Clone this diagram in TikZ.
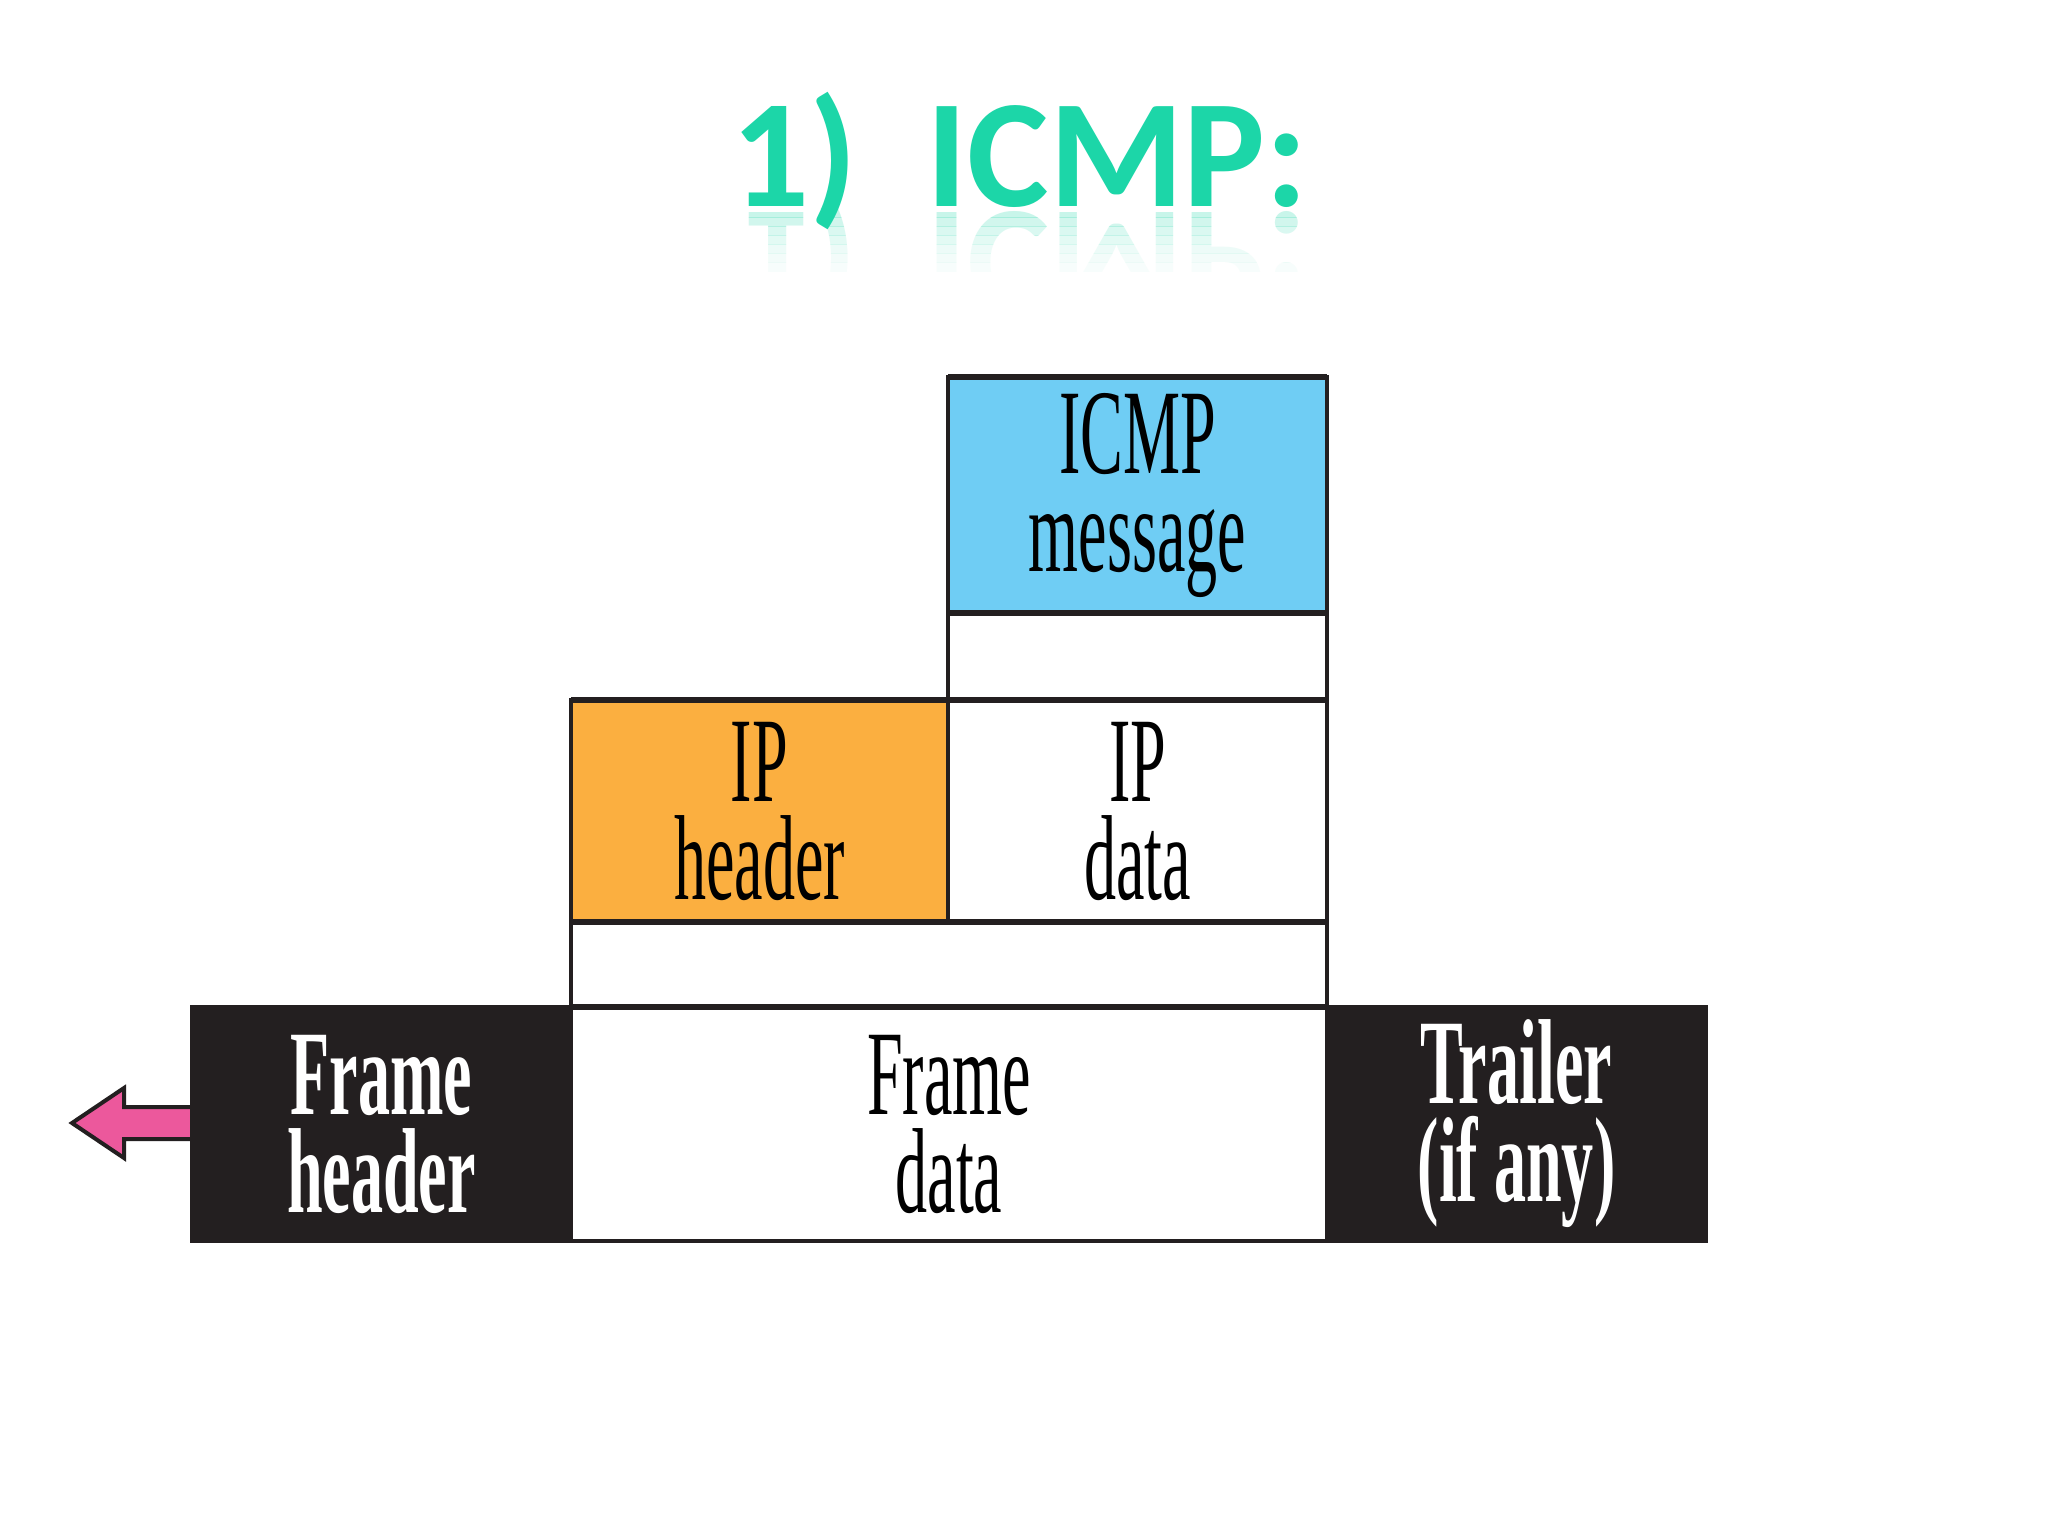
\documentclass[tikz,border=0pt]{standalone}
\usepackage{fontspec}
\newfontfamily\condserif[FakeStretch=0.53]{Liberation Serif}
\newfontfamily\titlefont{Carlito}
\definecolor{icmpblue}{RGB}{111,205,244}
\definecolor{iporange}{RGB}{251,175,64}
\definecolor{framebk}{RGB}{35,31,32}
\definecolor{arrowpink}{RGB}{236,88,156}
\definecolor{titlegreen}{RGB}{28,214,168}
\tikzset{
  pktbox/.style={draw=framebk, line width=3.5pt, inner sep=0pt, outer sep=0pt,
    align=center, font=\condserif\fontsize{121}{98}\selectfont},
  darkbox/.style={pktbox, fill=framebk, draw=framebk, text=white,
    font=\condserif\bfseries\fontsize{121}{98}\selectfont},
  thickedge/.style={draw=framebk, line width=6.5pt, line cap=butt},
  titlestyle/.style={inner sep=0pt, anchor=base, text=titlegreen,
    font=\titlefont\bfseries\fontsize{154}{160}\selectfont}
}
\begin{document}
\begin{tikzpicture}[x=1pt,y=-1pt]
\useasboundingbox (0,0) rectangle (2048,1536);
\fill[white] (0,0) rectangle (2048,1536);
% title
\node[titlestyle] (title) at (1020,206) {1)\hspace{0.45em}ICMP:};
% fading reflection in bands
\foreach \i/\op in {0/0.24,1/0.20,2/0.16,3/0.12,4/0.08,5/0.05,6/0.03} {
  \begin{scope}
    \clip (600,{208+9*\i}) rectangle (1400,{217+9*\i});
    \node[titlestyle, yscale=-1, opacity=\op] at (1020,212) {1)\hspace{0.45em}ICMP:};
  \end{scope}
}
% boxes
\node[pktbox, fill=icmpblue, minimum width=379pt, minimum height=236pt] (icmp) at (1137.5,495) {ICMP\\message};
\node[pktbox, fill=white, minimum width=379pt, minimum height=87pt] (pad1) at (1137.5,656.5) {};
\node[pktbox, fill=iporange, minimum width=377pt, minimum height=222pt] (iph) at (759.5,811) {IP\\header};
\node[pktbox, fill=white, minimum width=379pt, minimum height=222pt] (ipd) at (1137.5,811) {IP\\data};
\node[pktbox, fill=white, minimum width=756pt, minimum height=85pt] (pad2) at (949,964.5) {};
\node[pktbox, fill=white, minimum width=756pt, minimum height=234pt] (fd) at (949,1124) {Frame\\data};
\node[darkbox, minimum width=379pt, minimum height=234pt] (fh) at (381.5,1124) {Frame\\header};
\node[darkbox, minimum width=379pt, minimum height=234pt] (tr) at (1516.5,1124) {Trailer\\(if any)};
% heavier horizontal rules
\draw[thickedge] (icmp.north west) -- (icmp.north east);
\draw[thickedge] (icmp.south west) -- (icmp.south east);
\draw[thickedge] (iph.north west) -- (ipd.north east);
\draw[thickedge] (iph.south west) -- (ipd.south east);
\draw[thickedge] (fd.north west) -- (fd.north east);
% arrow
\coordinate (tip) at (72,1123);
\draw[fill=arrowpink, draw=framebk, line width=4pt, line join=miter]
  (tip) -- (124,1088) -- (124,1107) -- (fh.west |- 0,1107) -- (fh.west |- 0,1139)
  -- (124,1139) -- (124,1158) -- cycle;
\end{tikzpicture}
\end{document}
